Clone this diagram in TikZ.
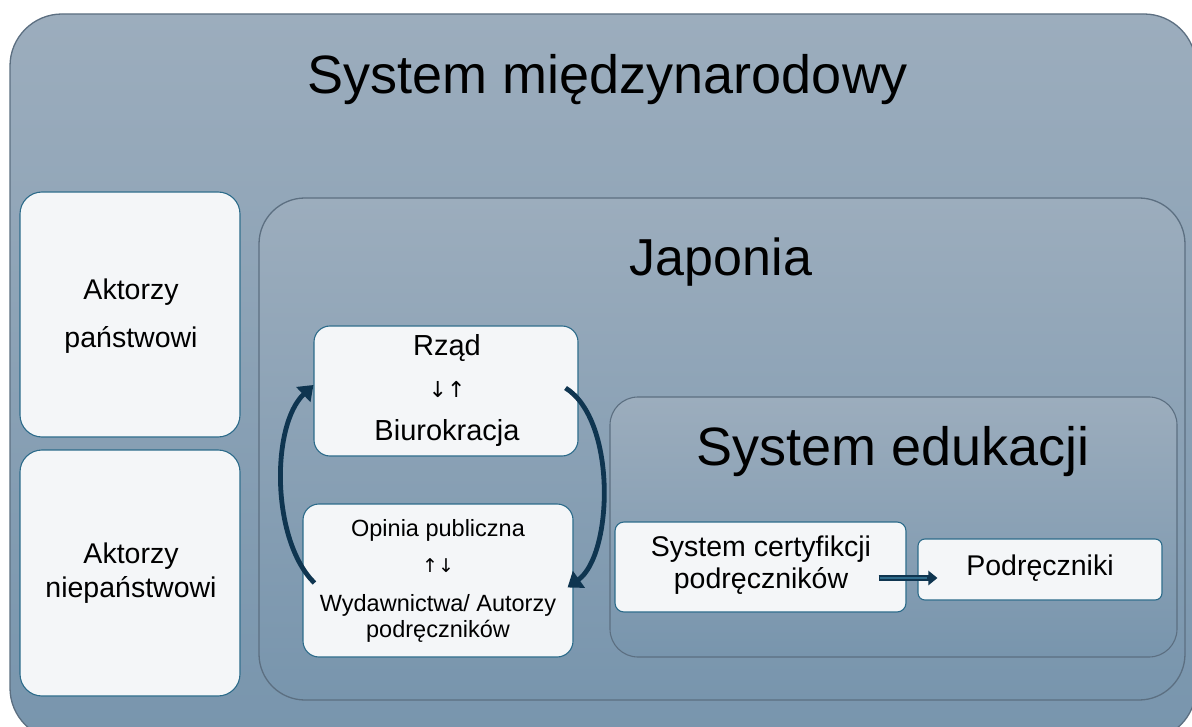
\documentclass[tikz,border=0pt]{standalone}
\usepackage{fontspec}
\setmainfont{Liberation Sans}
\newfontfamily\arrowfont{DejaVu Sans}
\usetikzlibrary{arrows.meta,calc}
\definecolor{bgtop}{HTML}{9CADBD}
\definecolor{bgbot}{HTML}{7895AD}
\definecolor{frame}{HTML}{5C6F81}
\definecolor{boxline}{HTML}{2C6B8A}
\definecolor{boxfill}{HTML}{F4F6F8}
\definecolor{navy}{HTML}{0F3550}
\definecolor{tealmid}{HTML}{2F6C8C}
\tikzset{
  panel/.style={draw=frame, line width=1.3pt, top color=bgtop, bottom color=bgbot},
  whitebox/.style={draw=boxline, line width=1.1pt, fill=boxfill, rounded corners=#1, inner sep=0pt},
  whitebox/.default=14pt,
  title/.style={font=\fontsize{54}{60}\selectfont, text=black},
  lbl/.style={align=center, text=black, inner sep=0pt},
  cyclearrow/.style={draw=navy, line width=4.8pt, -{Triangle[length=14pt,width=20pt]}},
  flowarrow/.style={draw=navy, line width=6pt, -{Triangle[length=9pt,width=14pt]}}
}
\begin{document}
\begin{tikzpicture}[x=1pt,y=-1pt]
\useasboundingbox (0,0) rectangle (1192,727);
\fill[white] (0,0) rectangle (1192,727);
\begin{scope}
\clip (0,0) rectangle (1192,727);
% outer system
\node[panel, rounded corners=52pt, minimum width=1186pt, minimum height=726pt, inner sep=0pt] (outer) at (603,377) {};
\node[title] (outertitle) at (608,80) {System międzynarodowy};
% actors
\node[whitebox=22pt, minimum width=220pt, minimum height=245pt] (state) at (130,314.5) {};
\node[lbl, font=\fontsize{28.5}{48}\selectfont] (statet) at (131,316) {Aktorzy\\państwowi};
\node[whitebox=22pt, minimum width=220pt, minimum height=246pt] (nonstate) at (130,573) {};
\node[lbl, font=\fontsize{28.5}{34}\selectfont] (nonstatet) at (131,573) {Aktorzy\\niepaństwowi};
% Japan
\node[panel, rounded corners=46pt, minimum width=926pt, minimum height=502pt, inner sep=0pt] (japan) at (722,449) {};
\node[title, font=\fontsize{52}{60}\selectfont] (japant) at (721,262) {Japonia};
% Government box
\node[whitebox=16pt, minimum width=264pt, minimum height=130pt] (gov) at (446,391) {};
\node[lbl, font=\fontsize{29}{32}\selectfont] (govt1) at (447,348) {Rząd};
\node[lbl, font=\arrowfont\fontsize{22}{24}\selectfont] (govt2) at (447,389) {↓↑};
\node[lbl, font=\fontsize{29}{32}\selectfont] (govt3) at (447,433) {Biurokracja};
% Public opinion box
\node[whitebox=16pt, minimum width=270pt, minimum height=153pt] (pub) at (438,580.5) {};
\node[lbl, font=\fontsize{23.5}{27}\selectfont] (pubt1) at (438,530) {Opinia publiczna};
\node[lbl, font=\arrowfont\fontsize{19}{22}\selectfont] (pubt2) at (438,566) {↑↓};
\node[lbl, font=\fontsize{23.5}{26}\selectfont] (pubt3) at (438,618) {Wydawnictwa/ Autorzy\\podręczników};
% education
\node[panel, rounded corners=28pt, minimum width=567pt, minimum height=260pt, inner sep=0pt, line width=1.1pt] (edu) at (893.5,527) {};
\node[title] (edut) at (893,452) {System edukacji};
\node[whitebox=9pt, minimum width=291pt, minimum height=90pt] (cert) at (760.5,567) {};
\node[lbl, font=\fontsize{28.5}{32}\selectfont] (certt) at (761,565) {System certyfikcji\\podręczników};
\node[whitebox=7pt, minimum width=244pt, minimum height=61pt] (pod) at (1040,569.5) {};
\node[lbl, font=\fontsize{28.5}{30}\selectfont] (podt) at (1040,568) {Podręczniki};
% arrows
\draw[flowarrow] ([xshift=-28pt,yshift=-11pt]cert.east) -- ([xshift=20pt,yshift=-8.5pt]pod.west);
\draw[tealmid, line width=2.2pt] ([xshift=-27pt,yshift=-11pt]cert.east) -- ([xshift=10pt,yshift=-8.5pt]pod.west);
\draw[cyclearrow] ([xshift=12pt,yshift=-2.5pt]pub.west) .. controls (271,540) and (271,425) .. ([yshift=6pt]gov.west);
\draw[cyclearrow] ([xshift=-13pt,yshift=3pt]gov.east) .. controls (617,420) and (613,555) .. ([xshift=-6pt,yshift=-7pt]pub.east);
\end{scope}
\end{tikzpicture}
\end{document}
